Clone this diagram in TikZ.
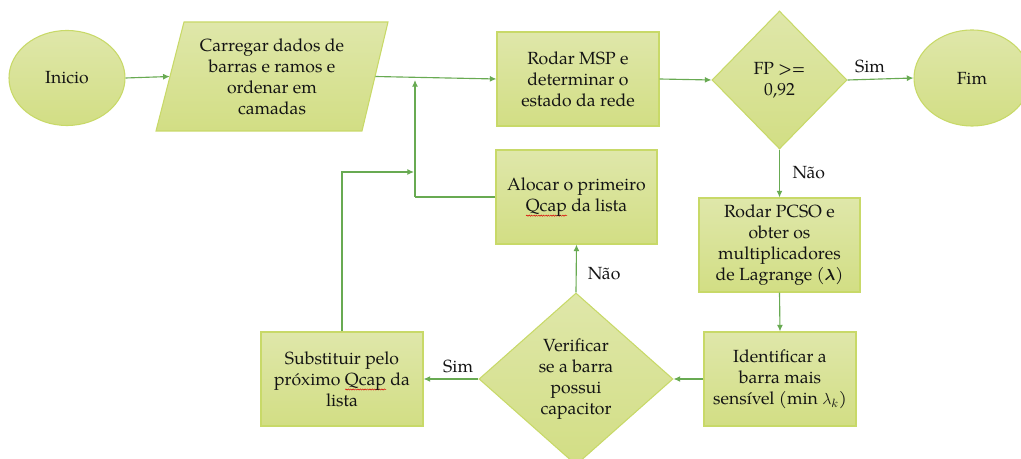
\documentclass[tikz,border=0pt]{standalone}
\usepackage{fontspec}
\setmainfont{texgyrepagella}[Extension=.otf,UprightFont=*-regular,BoldFont=*-bold,ItalicFont=*-italic,BoldItalicFont=*-bolditalic]
\usepackage{bm}
\usetikzlibrary{shapes.geometric,arrows.meta,decorations.pathmorphing}
\definecolor{filltop}{RGB}{223,231,170}
\definecolor{fillbot}{RGB}{210,222,132}
\definecolor{edgecol}{RGB}{200,217,104}
\definecolor{linkcol}{RGB}{104,170,82}
\definecolor{ink}{RGB}{20,20,20}
\newlength\sqw
\newcommand{\spellq}[1]{\settowidth{\sqw}{#1}\rlap{\tikz[baseline=0pt,x=1pt,y=1pt]\draw[red!85!black,line width=0.35pt,decorate,decoration={snake,amplitude=0.45pt,segment length=1.8pt}] (0,-3.2) -- (\sqw,-3.2);}#1}
\tikzset{
  shapefill/.style={top color=filltop,bottom color=fillbot,draw=edgecol,line width=0.8pt},
  txt/.style={text=ink,font=\fontsize{13.2}{15.8}\selectfont,align=center},
  procbox/.style={shapefill,txt,rectangle,inner sep=0pt,minimum height=70.5pt},
  termin/.style={shapefill,txt,ellipse,inner sep=0pt},
  decis/.style={shapefill,txt,diamond,inner sep=0pt},
  flow/.style={draw=linkcol,line width=0.85pt,-{Latex[length=5pt,width=4.5pt]}},
  plainflow/.style={draw=linkcol,line width=0.85pt},
  lbl/.style={text=ink,font=\fontsize{13.2}{15.8}\selectfont}
}
\begin{document}
\begin{tikzpicture}[x=0.75pt,y=-0.75pt]
\useasboundingbox (0,0) rectangle (1021,459);
% nodes
\node[termin,minimum width=87pt,minimum height=71.25pt] (inicio) at (67,78) {Inicio};
\node[rectangle,inner sep=0pt,minimum width=153.75pt,minimum height=81.75pt] (load) at (272.5,76.5) {};
\path[shapefill] (184,22) -- (388,22) -- (362,131) -- (156,131) -- cycle;
\node[txt] at (272,77) {Carregar dados de\\barras e ramos e\\ordenar em\\camadas};
\node[procbox,minimum width=121.5pt] (msp) at (578,79) {Rodar MSP e\\determinar o\\estado da rede};
\node[decis,minimum width=101.25pt,minimum height=103.5pt] (fp) at (779.5,80) {FP >=\\0,92};
\node[termin,minimum width=87pt,minimum height=72pt] (fim) at (972,78) {Fim};
\node[procbox,minimum width=120.75pt] (pcso) at (779.5,245) {Rodar PCSO e\\obter os\\multiplicadores\\de Lagrange ($\bm{\lambda}$)};
\node[procbox,minimum width=114pt] (ident) at (780,379) {Identificar a\\barra mais\\sensível (min $\lambda_k$)};
\node[decis,minimum width=145.5pt,minimum height=129pt] (verif) at (576,379) {Verificar\\se a barra\\possui\\capacitor};
\node[procbox,minimum width=120.75pt] (aloc) at (576.5,197) {Alocar o primeiro\\\spellq{Qcap} da lista};
\node[procbox,minimum width=121.5pt] (subs) at (342,379) {Substituir pelo\\próximo \spellq{Qcap} da\\lista};
% junction coordinates
\coordinate (jarr) at (415,80);
\coordinate (jmid) at (415,197);
\coordinate (jin) at (414,172);
\coordinate (sbend) at (342,172);
% connectors
\draw[flow] (inicio.east) -- (load.west);
\draw[flow] (load.east) -- (msp.west);
\draw[flow] (msp.east) -- (fp.west);
\draw[flow] (fp.east) -- node[lbl,above=1pt,pos=0.34] {Sim} (fim.west);
\draw[flow] (fp.south) -- node[lbl,right=6pt,pos=0.48] {Não} (pcso.north);
\draw[flow] (pcso.south) -- (ident.north);
\draw[flow] (ident.west) -- (verif.east);
\draw[flow] (verif.west) -- node[lbl,above=1pt,pos=0.37] {Sim} (subs.east);
\draw[flow] (verif.north) -- node[lbl,right=5pt,pos=0.4] {Não} (aloc.south);
\draw[plainflow] (aloc.west) -- (jmid);
\draw[flow] (jmid) -- (jarr);
\draw[flow] (subs.north) -- (sbend) -- (jin);
\end{tikzpicture}
\end{document}
